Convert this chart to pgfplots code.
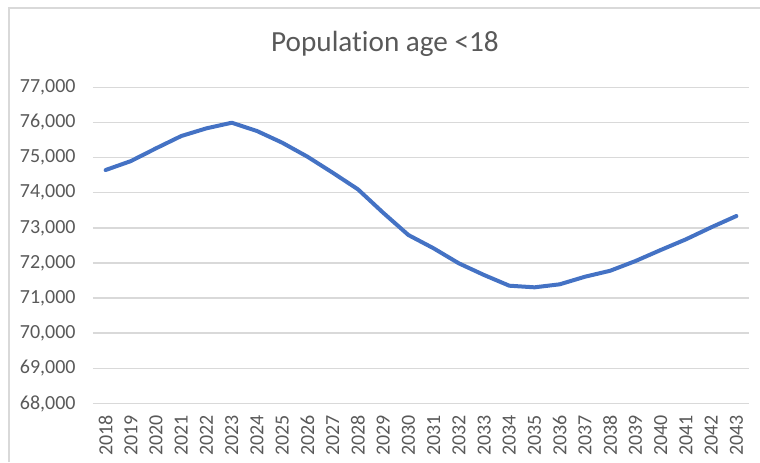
\documentclass[border=0pt]{standalone}
\usepackage{pgfplots}
\pgfplotsset{compat=1.18}
\usepackage{fontspec}
\setmainfont[Ligatures={NoCommon,NoRare,NoDiscretionary}]{Carlito}
\definecolor{linecol}{HTML}{4472C4}
\definecolor{txtcol}{HTML}{595959}
\definecolor{gridcol}{HTML}{D9D9D9}
\begin{document}
\begin{tikzpicture}[x=1pt,y=1pt]
\useasboundingbox (0,0) rectangle (380,231);
\draw[gridcol, line width=0.8pt] (4.5,0) -- (4.5,227) -- (380,227);
\node[text=txtcol, font=\fontsize{14.6}{16}\selectfont] at (192.5,209) {Population age <18};
\begin{axis}[
  at={(46.5pt,29.25pt)}, anchor=south west,
  scale only axis, width=328pt, height=158.1pt,
  xmin=-0.5, xmax=25.5, ymin=68000, ymax=77000,
  xtick={0,...,25},
  xticklabels={2018,2019,2020,2021,2022,2023,2024,2025,2026,2027,2028,2029,2030,2031,2032,2033,2034,2035,2036,2037,2038,2039,2040,2041,2042,2043},
  ytick={68000,69000,...,77000},
  scaled y ticks=false,
  axis line style={draw=none},
  major tick length=0pt,
  ymajorgrids, grid style={gridcol, line width=0.75pt},
  tick label style={text=txtcol, font=\fontsize{10}{12}\selectfont},
  xticklabel style={rotate=90, anchor=east, inner sep=0pt},
  yticklabel style={anchor=east, inner sep=0pt},
  xticklabel shift=5.5pt, yticklabel shift=8.5pt,
  /pgf/number format/.cd, 1000 sep={,}, assume math mode=true,
]
\addplot[linecol, line width=2pt, line join=round, line cap=round] coordinates {
(0,74646) (1,74900) (2,75264) (3,75614) (4,75833) (5,75992) (6,75756) (7,75423)
(8,75025) (9,74569) (10,74097) (11,73430) (12,72796) (13,72417) (14,71990)
(15,71657) (16,71353) (17,71307) (18,71393) (19,71609) (20,71779) (21,72055)
(22,72369) (23,72673) (24,73014) (25,73337)
};
\end{axis}
\end{tikzpicture}
\end{document}
